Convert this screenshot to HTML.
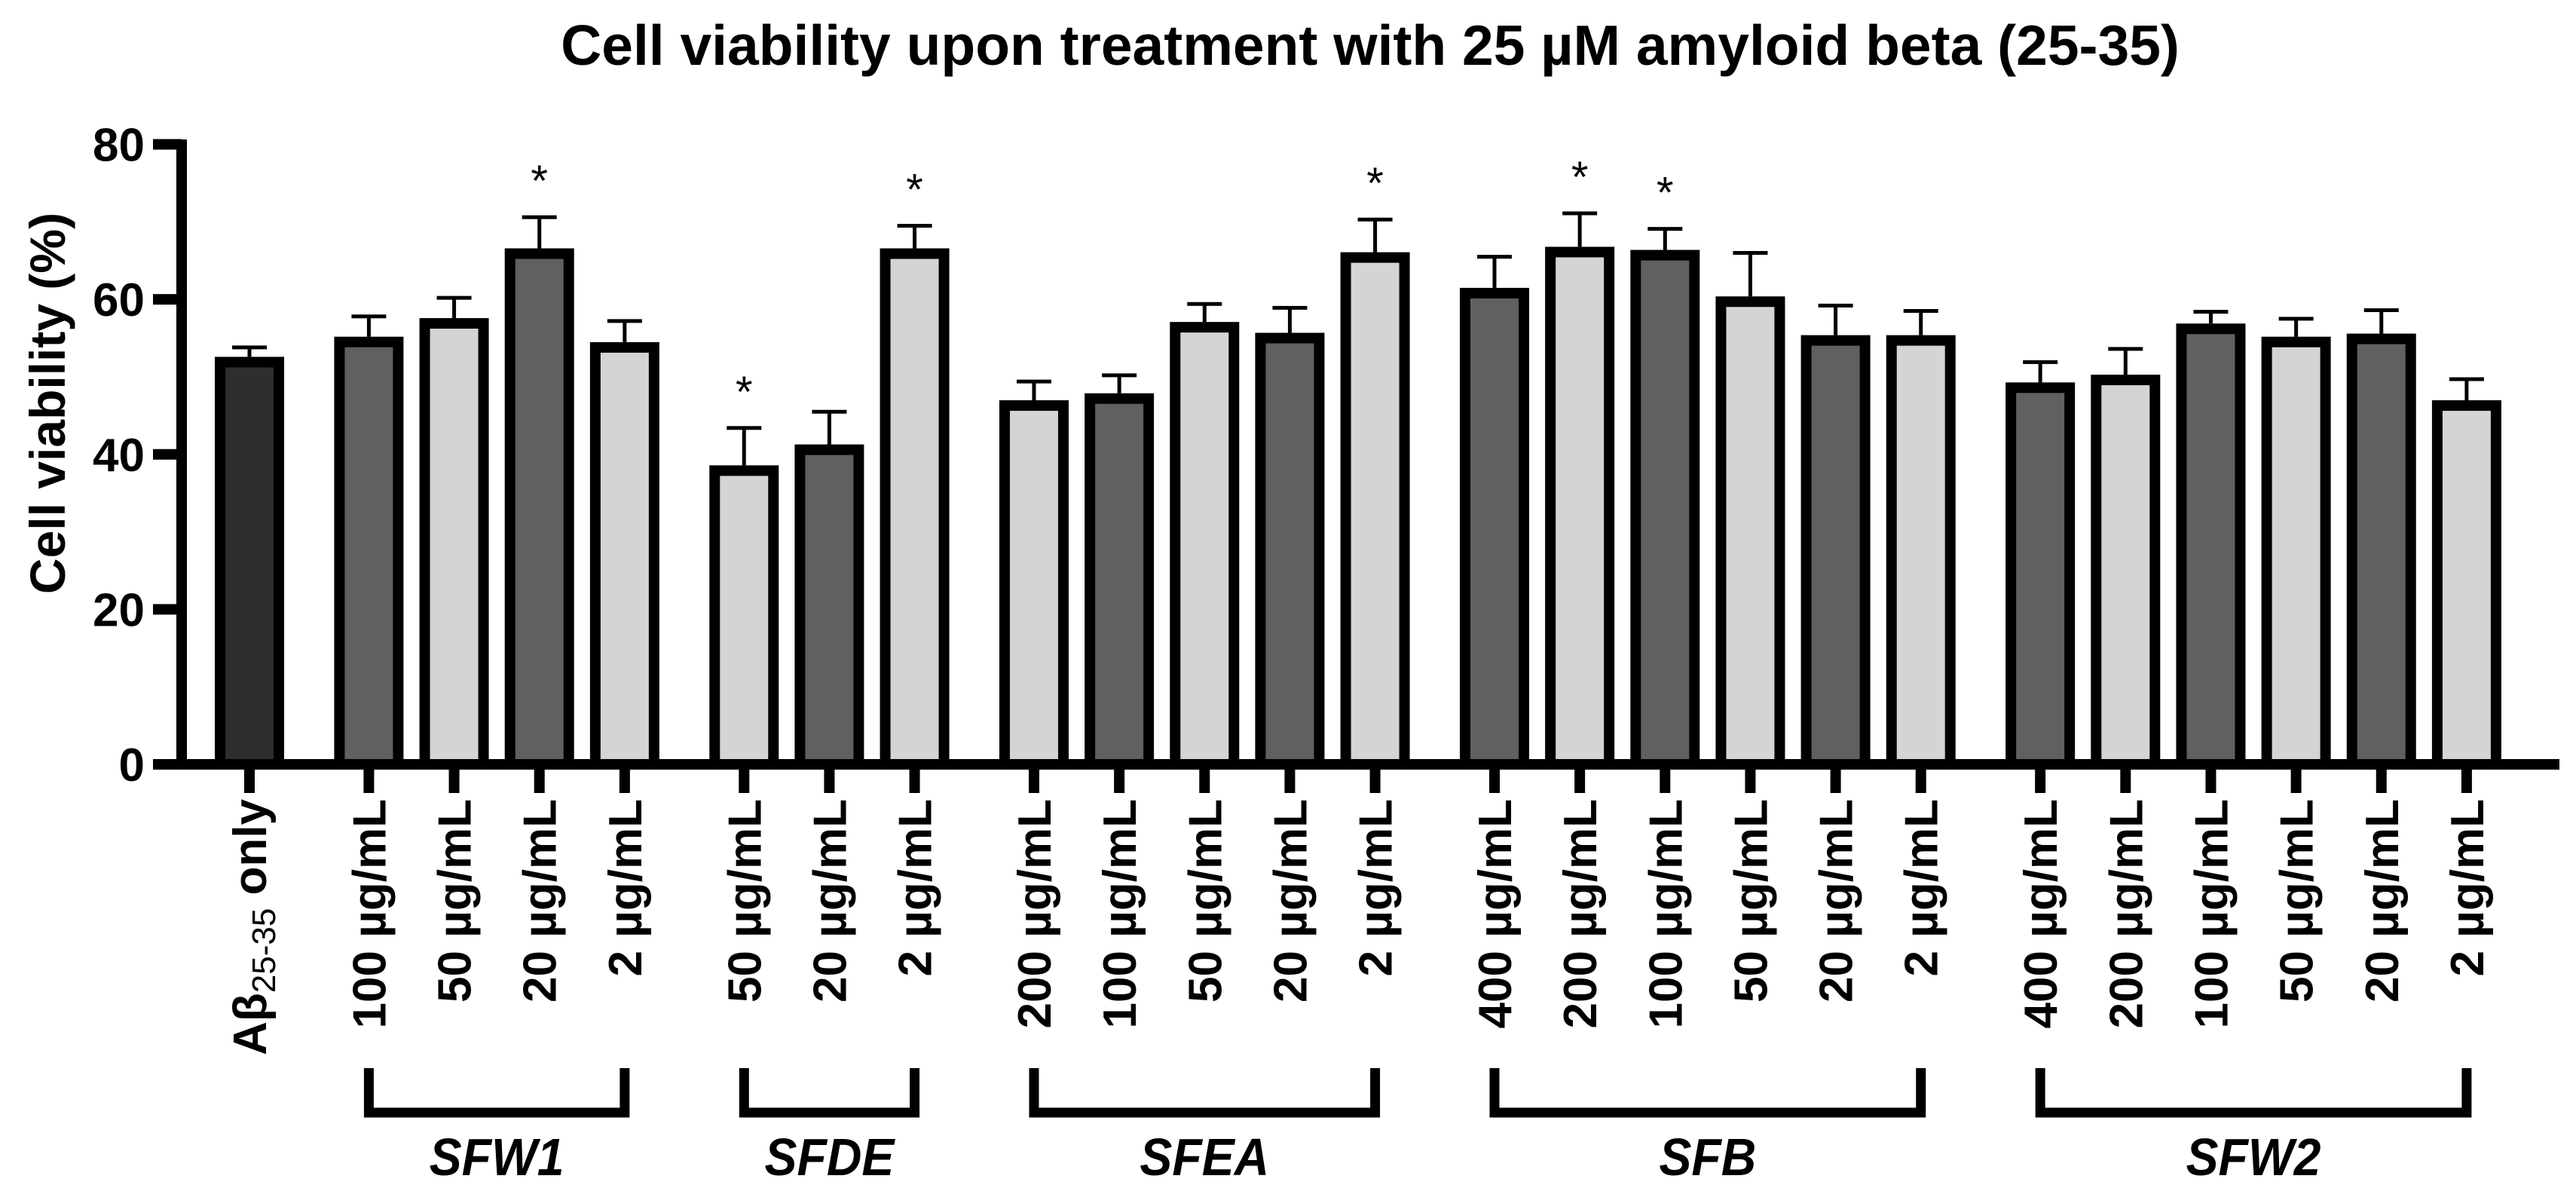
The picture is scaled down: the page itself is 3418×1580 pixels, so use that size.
<!DOCTYPE html>
<html><head><meta charset="utf-8"><style>
html,body{margin:0;padding:0;background:#fff;}
svg{display:block;font-family:"Liberation Sans",Arial,sans-serif;}
</style></head><body>
<svg id="chart" width="3418" height="1580" viewBox="0 0 3418 1580" xmlns="http://www.w3.org/2000/svg">
<text x="1818" y="86" font-size="75" font-weight="bold" text-anchor="middle">Cell viability upon treatment with 25 µM amyloid beta (25-35)</text>
<text transform="translate(86,535) rotate(-90)" font-size="66" font-weight="bold" text-anchor="middle">Cell viability (%)</text>
<g id="plot"></g>
</svg>
<script>
const categories = ["Aβ25-35 only","100 µg/mL","50 µg/mL","20 µg/mL","2 µg/mL","50 µg/mL","20 µg/mL","2 µg/mL","200 µg/mL","100 µg/mL","50 µg/mL","20 µg/mL","2 µg/mL","400 µg/mL","200 µg/mL","100 µg/mL","50 µg/mL","20 µg/mL","2 µg/mL","400 µg/mL","200 µg/mL","100 µg/mL","50 µg/mL","20 µg/mL","2 µg/mL"];
const groupOf = [0,1,1,1,1,2,2,2,3,3,3,3,3,4,4,4,4,4,4,5,5,5,5,5,5];
const groupNames = ["","SFW1","SFDE","SFEA","SFB","SFW2"];
const means = [51.9,54.5,56.9,65.9,53.8,37.9,40.6,65.9,46.3,47.2,56.4,55.0,65.4,60.8,66.1,65.7,59.7,54.7,54.7,48.6,49.6,56.2,54.5,54.9,46.3];
const errTops = [53.8,57.8,60.2,70.6,57.2,43.4,45.5,69.5,49.4,50.2,59.4,58.9,70.3,65.5,71.1,69.1,66.0,59.2,58.5,51.9,53.6,58.4,57.5,58.6,49.7];
const significant = [0,0,0,1,0,1,0,1,0,0,0,0,1,0,1,1,0,0,0,0,0,0,0,0,0];
const shade = ["c","d","l","d","l","l","d","l","l","d","l","d","l","d","l","d","l","d","l","d","l","d","l","d","l"];
const yTicks = [0,20,40,60,80];

const NS="http://www.w3.org/2000/svg";
const g=document.getElementById('plot');
const Y0=1014, YTOP=191.5, YMAX=80;
function y(v){return Y0-(v/YMAX)*(Y0-YTOP);}
function x(i){return 331+113.15*(i+0.4*groupOf[i]);}
const fills={c:"#2e2e2e",d:"#606060",l:"#d4d4d4"};
function mk(tag,attrs){const e=document.createElementNS(NS,tag);for(const k in attrs)e.setAttribute(k,attrs[k]);g.appendChild(e);return e;}

categories.forEach((c,i)=>{
  const cx=x(i);
  const r=mk('rect',{x:cx-39,y:y(means[i]),width:78,height:Y0-y(means[i]),fill:fills[shade[i]],stroke:"#000","stroke-width":14});
  
  
  const s=mk('line',{x1:cx,x2:cx,y1:y(means[i])-7,y2:y(errTops[i]),stroke:"#000","stroke-width":5});
  
  
  const cap=mk('line',{x1:cx-23,x2:cx+23,y1:y(errTops[i]),y2:y(errTops[i]),stroke:"#000","stroke-width":5});
  
  
  if(significant[i]){
    const t=mk('text',{x:cx,y:y(errTops[i])-28,"font-size":58,"text-anchor":"middle"});
    t.textContent="*";
    
    
  }
  const tk=mk('line',{x1:cx,x2:cx,y1:Y0,y2:1052,stroke:"#000","stroke-width":14});
  
  
  const lb=mk('text',{transform:`translate(${cx+22},1060) rotate(-90)`,"font-size":62,"font-weight":"bold","text-anchor":"end"});
  if(i===0){
    lb.innerHTML='Aβ<tspan font-size="44" font-weight="normal" dy="12">25-35</tspan><tspan dy="-12"> only</tspan>';
  } else lb.textContent=c;
  
  
});

const ya=mk('line',{x1:241,x2:241,y1:185,y2:1021,stroke:"#000","stroke-width":14});


const xa=mk('line',{x1:203,x2:3396,y1:Y0,y2:Y0,stroke:"#000","stroke-width":14});


yTicks.forEach(v=>{
  const t=mk('line',{x1:203,x2:241,y1:y(v),y2:y(v),stroke:"#000","stroke-width":14});
  
  
  const l=mk('text',{x:192,y:y(v)+22,"font-size":62,"font-weight":"bold","text-anchor":"end"});
  l.textContent=v;
  
  
});

for(let gi=1;gi<groupNames.length;gi++){
  const idx=groupOf.map((v,i)=>v===gi?i:-1).filter(i=>i>=0);
  const x1=x(idx[0]),x2=x(idx[idx.length-1]);
  const p=mk('path',{d:`M${x1},1417 V1476 H${x2} V1417`,fill:"none",stroke:"#000","stroke-width":13});
  
  
  const cxm=(x1+x2)/2;
  const t=mk('text',{transform:`translate(${cxm},1559) scale(0.92,1)`,x:0,y:0,"font-size":70,"font-weight":"bold","font-style":"italic","text-anchor":"middle"});
  t.textContent=groupNames[gi];
  
  
}
</script>
</body></html>
